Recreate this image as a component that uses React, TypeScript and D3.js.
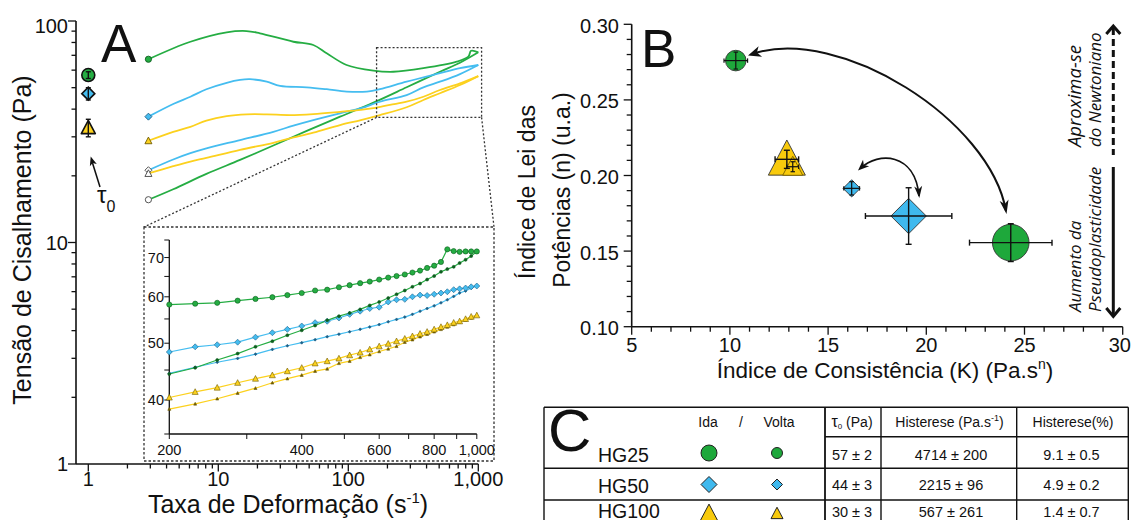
import React from "react";
import * as d3 from "d3";

type Pt = [number, number];

const GREEN = "#25ad43";
const BLUE = "#45bdf0";
const YELLOW = "#fcd11e";
const GREEN_D = "#0d5e1f";
const BLUE_D = "#1d5f86";
const YELLOW_D = "#6e5a00";
const B_GREEN = "#1ea83b";
const B_BLUE = "#3fb9ee";
const B_YELLOW = "#f8ca0c";
const FONT = "'Liberation Sans', Arial, Helvetica, sans-serif";
const ITALIC_FONT = "'Open Sans', 'Noto Sans', sans-serif";

// ---------------- Panel A: flow curves (rate s^-1, stress Pa) ----------------
const samples = ["HG25", "HG50", "HG100"];
const tau0Read = [57, 47, 33];
const tau0Err = [2, 3, 3];

const hg25IdaMain: Pt[] = [[2.9, 67.2], [6.1, 80.6], [11.6, 88.9], [16.5, 90.1], [20.9, 88.0], [37.8, 80.6], [53.8, 77.9], [68.2, 71.5], [97, 63.3], [156, 59.7], [222, 59.0], [378, 61.2], [682, 65.5], [838, 69.0], [880, 73.4], [1000, 72.2]];
const hg25VoltaMain: Pt[] = [[2.9, 15.6], [4.5, 17.4], [8.1, 20.4], [14.7, 23.6], [26.5, 27.4], [47.9, 31.9], [86.4, 37.0], [156, 42.8], [281, 50.2], [507, 59.0], [723, 64.8], [1000, 72.2]];
const hg50IdaMain: Pt[] = [[2.9, 37.0], [4.5, 42.2], [6.1, 45.5], [8.1, 49.2], [11.6, 52.6], [14.7, 54.2], [17.5, 54.6], [23.6, 53.2], [29.8, 50.9], [47.9, 50.2], [68.2, 49.2], [97, 48.0], [139, 48.0], [175, 49.2], [281, 53.2], [507, 58.1], [723, 61.2], [1000, 63.3]];
const hg50VoltaMain: Pt[] = [[2.9, 21.2], [4.5, 23.7], [6.1, 25.3], [8.1, 26.6], [14.7, 29.0], [26.5, 31.6], [37.8, 33.7], [53.8, 35.7], [86.4, 38.3], [125, 40.4], [175, 43.2], [281, 46.3], [378, 50.2], [507, 53.2], [723, 57.6], [1000, 63.3]];
const hg100IdaMain: Pt[] = [[2.9, 28.8], [4.5, 31.6], [6.1, 33.3], [8.1, 35.5], [11.6, 37.2], [16.5, 37.9], [23.6, 37.9], [35.6, 37.6], [53.8, 38.0], [86.4, 38.9], [125, 39.7], [156, 40.4], [209, 41.8], [281, 43.2], [378, 45.5], [507, 48.8], [723, 52.3], [1000, 56.4]];
const hg100VoltaMain: Pt[] = [[2.9, 20.5], [4.5, 22.1], [6.1, 23.2], [8.1, 24.1], [14.7, 26.2], [26.5, 28.2], [35.6, 29.5], [53.8, 31.3], [86.4, 33.9], [125, 35.7], [175, 37.6], [281, 40.8], [378, 44.0], [507, 47.2], [723, 51.4], [1000, 56.4]];

const xTicksA = ["1", "10", "100", "1,000"];

// ---------------- Inset (200–1000 s^-1) ----------------
const insetRates = [200, 229, 257, 286, 314, 343, 371, 400, 429, 457, 486, 514, 543, 571, 600, 629, 657, 686, 714, 743, 771, 800, 829, 857, 886, 914, 943, 971, 1000];
const hg25IdaInset = [58.2, 58.4, 58.6, 59.1, 59.5, 59.9, 60.4, 60.9, 61.5, 61.7, 62.3, 62.8, 63.3, 63.7, 64.2, 64.7, 65.1, 65.5, 66.0, 66.5, 67.2, 67.8, 68.8, 72.3, 71.8, 71.6, 71.7, 71.7, 71.7];
const hg25VoltaInset = [44.3, 45.4, 46.8, 48.0, 49.3, 50.4, 51.6, 52.6, 53.6, 54.7, 55.6, 56.3, 57.1, 58.0, 58.8, 59.7, 60.6, 61.5, 62.4, 63.2, 64.2, 65.1, 66.2, 66.9, 67.5, 68.5, 69.4, 70.4, 71.7];
const hg50IdaInset = [48.3, 49.3, 49.7, 50.2, 51.2, 52.1, 52.8, 53.5, 54.2, 54.5, 55.2, 56.0, 56.7, 57.3, 57.6, 58.8, 59.3, 59.4, 60.0, 60.4, 60.3, 60.6, 60.9, 61.2, 61.7, 61.9, 62.1, 62.4, 62.6];
const hg50VoltaInset = [44.4, 45.5, 46.4, 47.1, 47.9, 48.8, 49.5, 50.1, 50.7, 51.3, 51.8, 52.3, 52.8, 53.3, 53.8, 54.4, 54.9, 55.4, 56.0, 56.7, 57.3, 57.9, 58.6, 59.3, 60.1, 60.9, 61.4, 62.1, 62.6];
const hg100IdaInset = [40.4, 41.3, 42.0, 42.8, 43.5, 44.1, 44.8, 45.4, 46.2, 46.6, 47.1, 47.7, 48.2, 48.8, 49.4, 49.9, 50.4, 50.9, 51.4, 51.9, 52.3, 52.8, 53.3, 53.7, 54.2, 54.5, 55.0, 55.5, 55.8];
const hg100VoltaInset = [38.6, 39.4, 40.2, 41.1, 41.9, 42.8, 43.5, 44.1, 44.8, 45.2, 46.2, 46.6, 47.3, 47.8, 48.4, 48.9, 49.4, 50.2, 50.7, 51.3, 51.8, 52.3, 52.8, 53.3, 53.8, 54.3, 54.8, 55.2, 55.8];
const insetYTicks = [35, 40, 45, 50, 55, 60, 65, 70, 75];
const insetYLabels = [40, 50, 60, 70];
const insetXTicks = [200, 300, 400, 500, 600, 700, 800, 900, 1000];
const insetXLabels = ["200", "400", "600", "800", "1,000"];
const insetXLabelVals = [200, 400, 600, 800, 1000];

// ---------------- Panel B: K vs n ----------------
// order: HG25 ida, HG25 volta, HG50 ida, HG50 volta, HG100 ida, HG100 volta
const bK = [24.3, 10.3, 19.1, 16.2, 12.9, 13.2];
const bKErr = [2.1, 0.6, 2.2, 0.4, 0.6, 0.3];
const bN = [0.1556, 0.276, 0.1732, 0.1915, 0.2107, 0.2058];
const bNErr = [0.0125, 0.0056, 0.0187, 0.0044, 0.006, 0.0033];

// ---------------- Table C ----------------
const tableTau0 = ["57 ± 2", "44 ± 3", "30 ± 3"];
const tableHist = ["4714 ± 200", "2215 ± 96", "567 ± 261"];
const tableHistPct = ["9.1 ± 0.5", "4.9 ± 0.2", "1.4 ± 0.7"];

const KINDS = ["circle", "diamond", "triangle"];
const COLORS = [GREEN, BLUE, YELLOW];
const DARKS = [GREEN_D, BLUE_D, YELLOW_D];
const BCOLORS = [B_GREEN, B_BLUE, B_YELLOW];

function Shape({ kind, x, y, s, fill, stroke = "#222", sw = 0.8 }: any) {
  if (kind === "circle") return <circle cx={x} cy={y} r={s} fill={fill} stroke={stroke} strokeWidth={sw} />;
  if (kind === "diamond")
    return <path d={`M${x},${y - s}L${x + s},${y}L${x},${y + s}L${x - s},${y}Z`} fill={fill} stroke={stroke} strokeWidth={sw} />;
  const h = s * 1.9;
  return (
    <path
      d={`M${x},${y - h * 0.55}L${x + s},${y + h * 0.45}L${x - s},${y + h * 0.45}Z`}
      fill={fill}
      stroke={stroke}
      strokeWidth={sw}
      strokeLinejoin="round"
    />
  );
}

function arrowHead(tip: Pt, from: Pt, L = 12, w = 5, notch = 0.72) {
  const dx = tip[0] - from[0];
  const dy = tip[1] - from[1];
  const len = Math.hypot(dx, dy);
  const ux = dx / len, uy = dy / len;
  const nx = -uy, ny = ux;
  const bx = tip[0] - L * ux, by = tip[1] - L * uy;
  return `M${tip[0]},${tip[1]}L${bx + w * nx},${by + w * ny}L${tip[0] - notch * L * ux},${tip[1] - notch * L * uy}L${bx - w * nx},${by - w * ny}Z`;
}

export default function App() {
  const xA = d3.scaleLog().domain([1, 1000]).range([88.3, 478.3]);
  const yA = d3.scaleLog().domain([1, 100]).range([464, 21]);
  const xI = d3.scaleLog().domain([200, 1000]).range([169.3, 476.8]);
  const yI = d3.scaleLog().domain([35, 75]).range([434, 240]);
  const xB = d3.scaleLinear().domain([5, 30]).range([631.7, 1122.7]);
  const yB = d3.scaleLinear().domain([0.1, 0.3]).range([326.7, 24.3]);

  const lineA = d3.line<Pt>().x((d) => xA(d[0])).y((d) => yA(d[1])).curve(d3.curveCatmullRom.alpha(0.5));
  const lineI = d3.line<number>().x((_, i) => xI(insetRates[i])).y((d) => yI(d));

  const mainSeries = [
    { data: hg25VoltaMain, g: 0, open: true },
    { data: hg50VoltaMain, g: 1, open: true },
    { data: hg100VoltaMain, g: 2, open: true },
    { data: hg100IdaMain, g: 2, open: false },
    { data: hg50IdaMain, g: 1, open: false },
    { data: hg25IdaMain, g: 0, open: false },
  ];
  const insetSeries = [
    { vals: hg100VoltaInset, g: 2, ida: false },
    { vals: hg100IdaInset, g: 2, ida: true },
    { vals: hg50VoltaInset, g: 1, ida: false },
    { vals: hg50IdaInset, g: 1, ida: true },
    { vals: hg25VoltaInset, g: 0, ida: false },
    { vals: hg25IdaInset, g: 0, ida: true },
  ];

  const yTicksA = yA.ticks();
  const xTicksAll = xA.ticks();

  const zx0 = xA(165), zx1 = xA(1060), zy0 = yA(75.8), zy1 = yA(36.7);
  const ib = { x0: 144, y0: 227, x1: 494, y1: 461 };

  const bYTicks = d3.range(10, 31).map((v) => v / 100);
  const bXTicks = d3.range(5, 31);

  const bSizes = [18.3, 10.3, 17.7, 8.6, 18.5, 10];

  const bigP: Pt[] = [[752, 54], [840, 25], [990, 120], [1006, 211]];
  const smallP: Pt[] = [[861, 168], [878, 152], [915, 152], [919, 196]];
  const cubic = (p: Pt[]) => `M${p[0][0]},${p[0][1]}C${p[1][0]},${p[1][1]} ${p[2][0]},${p[2][1]} ${p[3][0]},${p[3][1]}`;

  const tL = 544, tT = 825, tH = 881, tP = 1016.7, tR = 1128.3;
  const rTop = 407.3, rHead = 436.7, r1 = 468.3, r2 = 500;
  const rowMarkY = [453, 484.5, 513.5];
  const rowTextY = [459.5, 490, 516.5];
  const rowLabelY = [462, 493, 518];

  return (
    <svg width={1132} height={520} style={{ position: "absolute", left: 0, top: 0, background: "#fff" }} fontFamily={FONT}>
      <rect x={0} y={0} width={1132} height={520} fill="#fff" />

      {/* ================= PANEL A ================= */}
      <line x1={76} y1={yA(100)} x2={76} y2={yA(1)} stroke="#111" strokeWidth={1.6} />
      <line x1={76} y1={yA(1)} x2={xA(1000)} y2={yA(1)} stroke="#111" strokeWidth={1.6} />
      {yTicksA.map((t, i) => {
        const major = Math.abs(Math.log10(t) - Math.round(Math.log10(t))) < 1e-6;
        return <line key={"ya" + i} x1={76} x2={76 - (major ? 8 : 4.5)} y1={yA(t)} y2={yA(t)} stroke="#111" strokeWidth={1.3} />;
      })}
      {[1, 10, 100].map((t) => (
        <text key={"yal" + t} x={68} y={t === 100 ? yA(t) + 12 : yA(t) + 7} textAnchor="end" fontSize={20} fill="#111">
          {t}
        </text>
      ))}
      {xTicksAll.map((t, i) => {
        const major = Math.abs(Math.log10(t) - Math.round(Math.log10(t))) < 1e-6;
        return <line key={"xa" + i} x1={xA(t)} x2={xA(t)} y1={yA(1)} y2={yA(1) + (major ? 7.5 : 4.5)} stroke="#111" strokeWidth={1.3} />;
      })}
      {[1, 10, 100, 1000].map((t, i) => (
        <text key={"xal" + t} x={xA(t)} y={486} textAnchor="middle" fontSize={20} fill="#111">
          {xTicksA[i]}
        </text>
      ))}
      <text transform={`translate(31,240) rotate(-90)`} textAnchor="middle" fontSize={25} fill="#111">
        Tensão de Cisalhamento (Pa)
      </text>
      <text x={288} y={513} textAnchor="middle" fontSize={25} fill="#111">
        Taxa de Deformação (s
        <tspan fontSize={15} dy={-10}>-1</tspan>
        <tspan dy={10}>)</tspan>
      </text>
      <text x={101} y={61.7} fontSize={53} fill="#111">A</text>

      {mainSeries.map((s, i) => (
        <path key={"ml" + i} d={lineA(s.data) || ""} fill="none" stroke={COLORS[s.g]} strokeWidth={1.8} />
      ))}
      {mainSeries.map((s, i) => (
        <Shape
          key={"mm" + i}
          kind={KINDS[s.g]}
          x={xA(s.data[0][0])}
          y={yA(s.data[0][1])}
          s={s.g === 0 ? 3.1 : 3.5}
          fill={s.open ? "#fff" : COLORS[s.g]}
          stroke={s.open ? "#444" : DARKS[s.g]}
          sw={0.9}
        />
      ))}

      {samples.map((_, i) => {
        const x = xA(1);
        const y = yA(tau0Read[i]);
        const y0 = yA(tau0Read[i] - tau0Err[i]);
        const y1 = yA(tau0Read[i] + tau0Err[i]);
        return (
          <g key={"t0" + i}>
            <Shape kind={KINDS[i]} x={x} y={y} s={i === 2 ? 7 : 6.5} fill={COLORS[i]} stroke="#111" sw={1.6} />
            <line x1={x} x2={x} y1={y0} y2={y1} stroke="#111" strokeWidth={1.4} />
            <line x1={x - 2.5} x2={x + 2.5} y1={y0} y2={y0} stroke="#111" strokeWidth={1.4} />
            <line x1={x - 2.5} x2={x + 2.5} y1={y1} y2={y1} stroke="#111" strokeWidth={1.4} />
          </g>
        );
      })}
      <line x1={100} y1={187} x2={92.5} y2={163} stroke="#111" strokeWidth={1.5} />
      <path d={arrowHead([90.7, 156.5], [100, 187], 9, 3.6, 0.75)} fill="#111" />
      <text x={97} y={203} fontSize={24} fill="#111">
        τ<tspan fontSize={16} dy={8.5}>0</tspan>
      </text>

      <rect x={zx0} y={zy0} width={zx1 - zx0} height={zy1 - zy0} fill="none" stroke="#333" strokeWidth={1.3} strokeDasharray="2,2" />
      <line x1={zx0} y1={zy1} x2={ib.x0} y2={ib.y0} stroke="#333" strokeWidth={1.3} strokeDasharray="2,2" />
      <line x1={zx1} y1={zy1} x2={ib.x1} y2={ib.y0} stroke="#333" strokeWidth={1.3} strokeDasharray="2,2" />
      <rect x={ib.x0} y={ib.y0} width={ib.x1 - ib.x0} height={ib.y1 - ib.y0} fill="#fff" stroke="#333" strokeWidth={1.3} strokeDasharray="2.5,2" />

      <line x1={xI(200)} y1={yI(75)} x2={xI(200)} y2={yI(35)} stroke="#111" strokeWidth={1.3} />
      <line x1={xI(200)} y1={yI(35)} x2={xI(1000)} y2={yI(35)} stroke="#111" strokeWidth={1.3} />
      {insetYTicks.map((t) => (
        <line key={"iy" + t} x1={xI(200) - 5} x2={xI(200)} y1={yI(t)} y2={yI(t)} stroke="#111" strokeWidth={1} />
      ))}
      {insetYLabels.map((t) => (
        <text key={"iyl" + t} x={164} y={yI(t) + 5} textAnchor="end" fontSize={14.5} fill="#111">
          {t}
        </text>
      ))}
      {insetXTicks.map((t) => (
        <line key={"ix" + t} x1={xI(t)} x2={xI(t)} y1={yI(35)} y2={yI(35) + 5} stroke="#111" strokeWidth={1} />
      ))}
      {insetXLabelVals.map((t, i) => (
        <text key={"ixl" + t} x={xI(t)} y={455} textAnchor="middle" fontSize={14.5} fill="#111">
          {insetXLabels[i]}
        </text>
      ))}
      {insetSeries.map((s, i) => (
        <path key={"il" + i} d={lineI(s.vals) || ""} fill="none" stroke={COLORS[s.g]} strokeWidth={1.2} />
      ))}
      {insetSeries.map((s, i) =>
        s.vals.map((v, j) => (
          <Shape
            key={"im" + i + "-" + j}
            kind={KINDS[s.g]}
            x={xI(insetRates[j])}
            y={yI(v)}
            s={s.ida ? (s.g === 0 ? 2.6 : 3) : 1.5}
            fill={s.ida ? COLORS[s.g] : DARKS[s.g]}
            stroke={DARKS[s.g]}
            sw={0.6}
          />
        ))
      )}

      {/* ================= PANEL B ================= */}
      <line x1={xB(5)} y1={yB(0.3)} x2={xB(5)} y2={yB(0.1)} stroke="#111" strokeWidth={1.6} />
      <line x1={xB(5)} y1={yB(0.1)} x2={xB(30)} y2={yB(0.1)} stroke="#111" strokeWidth={1.6} />
      {bYTicks.map((t) => {
        const major = Math.round(t * 100) % 5 === 0;
        return <line key={"by" + t} x1={xB(5) - (major ? 8 : 5)} x2={xB(5)} y1={yB(t)} y2={yB(t)} stroke="#111" strokeWidth={1.3} />;
      })}
      {[0.1, 0.15, 0.2, 0.25, 0.3].map((t) => (
        <text key={"byl" + t} x={619} y={yB(t) + 8.5} textAnchor="end" fontSize={20} fill="#111">
          {t.toFixed(2)}
        </text>
      ))}
      {bXTicks.map((t) => {
        const major = t % 5 === 0;
        return <line key={"bx" + t} x1={xB(t)} x2={xB(t)} y1={yB(0.1)} y2={yB(0.1) + (major ? 8 : 5)} stroke="#111" strokeWidth={1.3} />;
      })}
      {[5, 10, 15, 20, 25, 30].map((t) => (
        <text
          key={"bxl" + t}
          x={t === 30 ? 1131 : xB(t)}
          y={352}
          textAnchor={t === 30 ? "end" : "middle"}
          fontSize={20}
          fill="#111"
        >
          {t}
        </text>
      ))}
      <text transform="translate(535,192) rotate(-90)" textAnchor="middle" fontSize={23} fill="#111">
        Índice de Lei das
      </text>
      <text transform="translate(570,190) rotate(-90)" textAnchor="middle" fontSize={23} fill="#111">
        Potências (n) (u.a.)
      </text>
      <text x={885} y={378} textAnchor="middle" fontSize={22.5} fill="#111">
        Índice de Consistência (K) (Pa.s
        <tspan fontSize={14} dy={-9}>n</tspan>
        <tspan dy={9}>)</tspan>
      </text>
      <text x={641} y={66.7} fontSize={53} fill="#111">B</text>

      {bK.map((k, i) => {
        const g = Math.floor(i / 2);
        return (
          <Shape key={"bm" + i} kind={KINDS[g]} x={xB(k)} y={yB(bN[i])} s={bSizes[i]} fill={BCOLORS[g]} stroke={i % 2 === 1 && g === 2 ? "#7a6200" : "#333"} sw={0.9} />
        );
      })}
      {bK.map((k, i) => {
        const x = xB(k), y = yB(bN[i]);
        const xl = xB(k - bKErr[i]), xr = xB(k + bKErr[i]);
        const yt = yB(bN[i] + bNErr[i]), yb = yB(bN[i] - bNErr[i]);
        const c = i % 2 === 0 ? 3 : 2.2;
        const sw = i % 2 === 0 ? 1.4 : 1.2;
        return (
          <g key={"be" + i} stroke="#111" strokeWidth={sw}>
            <line x1={xl} x2={xr} y1={y} y2={y} />
            <line x1={x} x2={x} y1={yt} y2={yb} />
            <line x1={xl} x2={xl} y1={y - c} y2={y + c} />
            <line x1={xr} x2={xr} y1={y - c} y2={y + c} />
            <line x1={x - c} x2={x + c} y1={yt} y2={yt} />
            <line x1={x - c} x2={x + c} y1={yb} y2={yb} />
          </g>
        );
      })}

      <path d={cubic(bigP)} fill="none" stroke="#111" strokeWidth={2} />
      <path d={arrowHead([748, 55.5], bigP[1], 13, 5.5)} fill="#111" />
      <path d={arrowHead([1006.5, 214], bigP[2], 14, 4.5)} fill="#111" />
      <path d={cubic(smallP)} fill="none" stroke="#111" strokeWidth={1.7} />
      <path d={arrowHead([858, 170.5], smallP[1], 11, 4.5)} fill="#111" />
      <path d={arrowHead([919.3, 198], smallP[2], 12, 4)} fill="#111" />

      <line x1={1113.3} x2={1113.3} y1={28} y2={155} stroke="#111" strokeWidth={3} strokeDasharray="7,4" />
      <line x1={1113.3} x2={1113.3} y1={167} y2={316} stroke="#111" strokeWidth={3} />
      <polyline points="1106.3,34 1113.3,26 1120.3,34" fill="none" stroke="#111" strokeWidth={3} strokeLinejoin="miter" />
      <polyline points="1106.3,308 1113.3,316.5 1120.3,308" fill="none" stroke="#111" strokeWidth={3} strokeLinejoin="miter" />
      <g fontFamily={ITALIC_FONT} fontStyle="italic" fontSize={17} fill="#111">
        <text transform="translate(1081,147) rotate(-90)" fontSize={18.5}>Aproxima-se</text>
        <text transform="translate(1101,147) rotate(-90)">do Newtoniano</text>
        <text transform="translate(1081,312) rotate(-90)">Aumento da</text>
        <text transform="translate(1101,312) rotate(-90)">Pseudoplasticidade</text>
      </g>

      {/* ================= TABLE C ================= */}
      <g stroke="#111" strokeWidth={1.4}>
        <line x1={tL} x2={tR} y1={rTop} y2={rTop} />
        <line x1={tT} x2={tR} y1={rHead} y2={rHead} />
        <line x1={tL} x2={tR} y1={r1} y2={r1} />
        <line x1={tL} x2={tR} y1={r2} y2={r2} />
        <line x1={tL} x2={tL} y1={rTop} y2={520} />
        <line x1={tT} x2={tT} y1={rTop} y2={520} strokeWidth={1.8} />
        <line x1={tH} x2={tH} y1={rTop} y2={520} />
        <line x1={tP} x2={tP} y1={rTop} y2={520} />
        <line x1={tR} x2={tR} y1={rTop} y2={520} />
      </g>
      <text x={548} y={451} fontSize={60} fill="#111">C</text>
      <text x={708} y={426.5} textAnchor="middle" fontSize={14} fill="#111">Ida</text>
      <text x={741} y={426.5} textAnchor="middle" fontSize={14} fill="#111">/</text>
      <text x={779} y={426.5} textAnchor="middle" fontSize={14} fill="#111">Volta</text>
      <text x={852} y={426.5} textAnchor="middle" fontSize={14} fill="#111">
        <tspan fontSize={16}>τ</tspan>
        <tspan fontSize={8} dy={2}>0</tspan>
        <tspan dy={-2}> (Pa)</tspan>
      </text>
      <text x={949.5} y={426.5} textAnchor="middle" fontSize={14} fill="#111">
        Histerese (Pa.s<tspan fontSize={9} dy={-6}>-1</tspan>
        <tspan dy={6}>)</tspan>
      </text>
      <text x={1073} y={426.5} textAnchor="middle" fontSize={14} fill="#111">Histerese(%)</text>
      {samples.map((name, i) => (
        <g key={"row" + i}>
          <text x={598} y={rowLabelY[i]} fontSize={19.5} fill="#111">{name}</text>
          <Shape kind={KINDS[i]} x={709} y={rowMarkY[i]} s={i === 2 ? 9 : 8} fill={BCOLORS[i]} stroke="#222" sw={1} />
          <Shape kind={KINDS[i]} x={777} y={rowMarkY[i]} s={i === 2 ? 6 : 5.5} fill={BCOLORS[i]} stroke="#222" sw={1} />
          <text x={852} y={rowTextY[i]} textAnchor="middle" fontSize={14.5} fill="#111">{tableTau0[i]}</text>
          <text x={951} y={rowTextY[i]} textAnchor="middle" fontSize={14.5} fill="#111">{tableHist[i]}</text>
          <text x={1071.5} y={rowTextY[i]} textAnchor="middle" fontSize={14.5} fill="#111">{tableHistPct[i]}</text>
        </g>
      ))}
    </svg>
  );
}
